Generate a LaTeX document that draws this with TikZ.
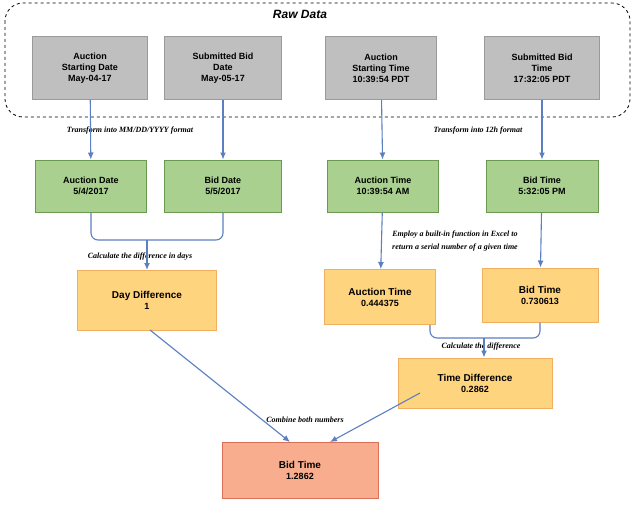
\documentclass[tikz,border=0pt]{standalone}
\usepackage{fontspec}
\setmainfont{Liberation Serif}
\newfontfamily\sansf{Liberation Sans}
\usetikzlibrary{arrows.meta}
\definecolor{gfill}{HTML}{BFBFBF}
\definecolor{gdraw}{HTML}{9A9A9A}
\definecolor{grfill}{HTML}{A9D08E}
\definecolor{grdraw}{HTML}{6A9A50}
\definecolor{ofill}{HTML}{FFD47F}
\definecolor{odraw}{HTML}{F0B060}
\definecolor{rfill}{HTML}{F8AE8E}
\definecolor{rdraw}{HTML}{D9705A}
\definecolor{arrc}{HTML}{5B7FBF}
\begin{document}
\begin{tikzpicture}[x=1pt,y=-1pt,
 box/.style={draw, line width=1pt, font=\sansf\bfseries\small, align=center, inner sep=2pt},
 gbox/.style={box, fill=gfill, draw=gdraw},
 grbox/.style={box, fill=grfill, draw=grdraw},
 obox/.style={box, fill=ofill, draw=odraw},
 rbox/.style={box, fill=rfill, draw=rdraw},
 lab/.style={font=\bfseries\itshape\footnotesize},
 arr/.style={-{Latex[length=7pt,width=6pt]}, draw=arrc, line width=1.1pt},
 ln/.style={draw=arrc, line width=1.1pt, rounded corners=7pt}]
\useasboundingbox (0,0) rectangle (640,527);
\draw[dashed, rounded corners=18pt, line width=0.8pt] (5,3) rectangle (630,117);
\node[font=\sansf\bfseries\itshape\large] (raw) at (300,14) {Raw Data};
\node[gbox, minimum width=115, minimum height=63] (g1) at (90,68) {Auction\\Starting Date\\May-04-17};
\node[gbox, minimum width=117, minimum height=63] (g2) at (223,68) {Submitted Bid\\Date\\May-05-17};
\node[gbox, minimum width=111, minimum height=63] (g3) at (381,68) {Auction\\Starting Time\\10:39:54 PDT};
\node[gbox, minimum width=115, minimum height=63] (g4) at (542,68) {Submitted Bid\\Time\\17:32:05 PDT};
\node[lab] (t1) at (130,131) {Transform into MM/DD/YYYY format};
\node[lab] (t2) at (478,131) {Transform into 12h format};
\node[grbox, minimum width=111, minimum height=52] (a1) at (91,186) {Auction Date\\5/4/2017};
\node[grbox, minimum width=117, minimum height=52] (a2) at (223,186) {Bid Date\\5/5/2017};
\node[grbox, minimum width=111, minimum height=52] (a3) at (383,186) {Auction Time\\10:39:54 AM};
\node[grbox, minimum width=112, minimum height=52] (a4) at (542,186) {Bid Time\\5:32:05 PM};
\foreach \u/\v in {g1/a1,g2/a2,g3/a3,g4/a4} \draw[arr] (\u) -- (\v);
\node[obox, minimum width=139, minimum height=60] (d) at (147,300) {\normalsize Day Difference\\1};
\node[lab, align=center] (t3) at (455,241) {Employ a built-in function in Excel to\\[4pt]return a serial number of a given time};
\node[obox, minimum width=111, minimum height=55] (o1) at (380,297) {\normalsize Auction Time\\0.444375};
\node[obox, minimum width=116, minimum height=54] (o2) at (540,295) {\normalsize Bid Time\\0.730613};
\node[lab] (t4) at (140,257) {Calculate the difference in days};
\draw[ln] (a1.south) |- (147,240);
\draw[ln] (a2.south) |- (147,240);
\draw[arr] (147,240) -- (147,270);
\draw[arr] (a3) -- (o1);
\draw[arr] (a4) -- (o2);
\node[obox, minimum width=154, minimum height=50] (td) at (475,383) {\normalsize Time Difference\\0.2862};
\node[lab] (t5) at (481,347) {Calculate the difference};
\draw[ln] (o1.south -| 430,0) |- (484,338);
\draw[ln] (o2.south) |- (484,338);
\draw[arr] (484,338) -- (td.north -| 484,0);
\node[lab] (t6) at (305,420) {Combine both numbers};
\node[rbox, minimum width=156, minimum height=56] (f) at (300,470) {\normalsize Bid Time\\1.2862};
\draw[arr] (150,330) -- (290,442);
\draw[arr] (420,393) -- (330,442);
\end{tikzpicture}
\end{document}
